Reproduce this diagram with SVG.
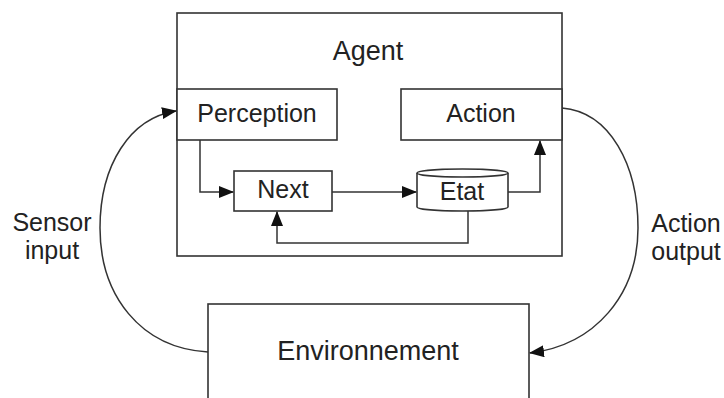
<svg xmlns="http://www.w3.org/2000/svg" width="724" height="398" viewBox="0 0 724 398">
<style>
.box{fill:#fff;stroke:#333;stroke-width:1.6}
.t{font-family:"Liberation Sans",Arial,sans-serif;font-size:25px;fill:#222;text-anchor:middle}
.big{font-size:27px}
.c{fill:none;stroke:#333;stroke-width:1.5}
</style>
<defs>
<marker id="ah" markerWidth="15" markerHeight="12" refX="14" refY="6" orient="auto" markerUnits="userSpaceOnUse">
<path d="M0,0 L15,6 L0,12 Z" fill="#111"/>
</marker>
</defs>
<g id="agent">
<rect class="box" x="177" y="13" width="385" height="243"/>
<text class="t big" x="368" y="60">Agent</text>
</g>
<g id="perception">
<rect class="box" x="177" y="89" width="160" height="51"/>
<text class="t" x="257" y="122">Perception</text>
</g>
<g id="action">
<rect class="box" x="401" y="89" width="161" height="51"/>
<text class="t" x="481" y="122">Action</text>
</g>
<g id="next">
<rect class="box" x="234" y="171" width="98" height="40"/>
<text class="t" x="283" y="198">Next</text>
</g>
<g id="etat">
<path class="box" d="M417,173 L417,207 A45.5,4 0 0 0 508,207 L508,173"/>
<ellipse class="box" cx="462.5" cy="173" rx="45.5" ry="4"/>
<text class="t" x="462" y="200">Etat</text>
</g>
<g id="environnement">
<rect class="box" x="208" y="304" width="321" height="110"/>
<text class="t big" x="368" y="360">Environnement</text>
</g>
<g id="labels">
<text class="t" x="52" y="231">Sensor</text>
<text class="t" x="52" y="259">input</text>
<text class="t" x="686" y="232">Action</text>
<text class="t" x="686" y="260">output</text>
</g>
<g id="connectors">
<path class="c" d="M200,140 L200,192 L233,192" marker-end="url(#ah)"/>
<path class="c" d="M332,192 L416,192" marker-end="url(#ah)"/>
<path class="c" d="M508,192 L540,192 L540,141" marker-end="url(#ah)"/>
<path class="c" d="M468,211 L468,243 L277,243 L277,212" marker-end="url(#ah)"/>
<path class="c" d="M208,352 C140,348 100,295 100,228 C100,165 130,118 176,111" marker-end="url(#ah)"/>
<path class="c" d="M562,108 C610,112 638,165 638,228 C638,295 595,345 530,353" marker-end="url(#ah)"/>
</g>
</svg>
